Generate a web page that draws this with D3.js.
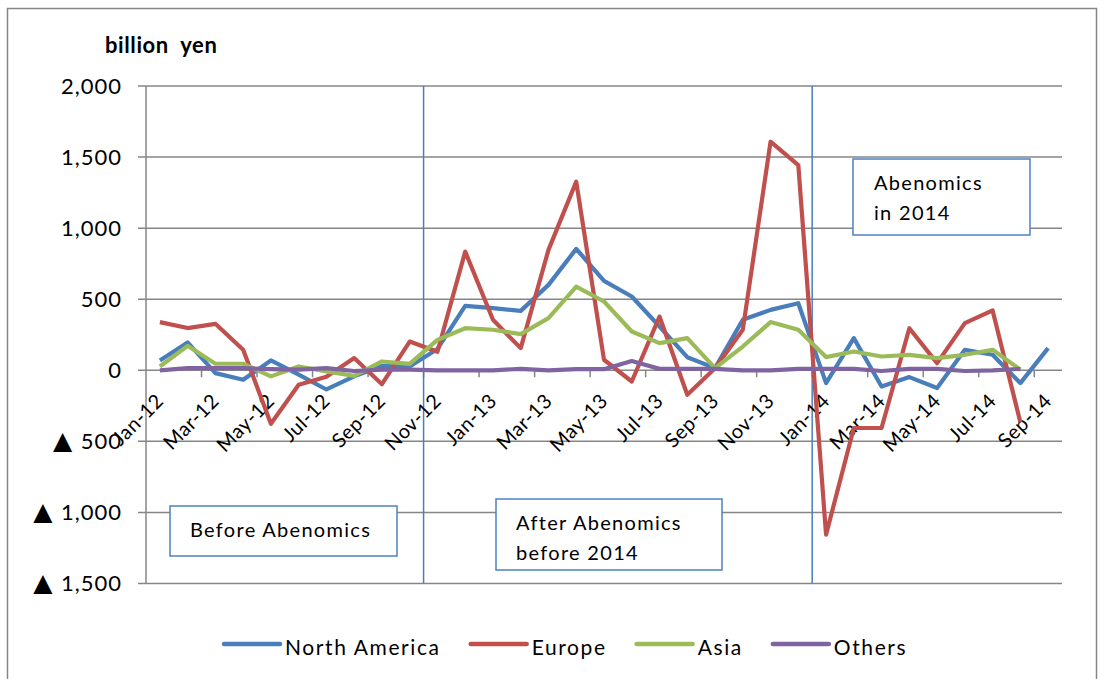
<!DOCTYPE html>
<html>
<head>
<meta charset="utf-8">
<script src="https://cdn.jsdelivr.net/npm/d3@7"></script>
<style>
  html, body { margin: 0; padding: 0; background: #fff; }
  svg { display: block; }
  text { font-family: Lato, "Open Sans", "DejaVu Sans", sans-serif; fill: #000; white-space: pre; }
</style>
</head>
<body>
<svg id="chart" width="1105" height="679"></svg>
<script>
// Monthly categories, Jan-12 .. Sep-14
const months = [
  "Jan-12","Feb-12","Mar-12","Apr-12","May-12","Jun-12","Jul-12","Aug-12","Sep-12","Oct-12","Nov-12","Dec-12",
  "Jan-13","Feb-13","Mar-13","Apr-13","May-13","Jun-13","Jul-13","Aug-13","Sep-13","Oct-13","Nov-13","Dec-13",
  "Jan-14","Feb-14","Mar-14","Apr-14","May-14","Jun-14","Jul-14","Aug-14","Sep-14"
];

// Values in billion yen (null = no data for that month)
const northAmerica = [
  69, 196, -20, -67, 69, -30, -135, -43, 30, 27, 150, 453,
  437, 418, 601, 854, 629, 519, 308, 92, 15, 355, 425, 472,
  -90, 226, -114, -48, -125, 144, 109, -90, 156
];
const europe = [
  339, 297, 327, 144, -376, -102, -45, 86, -98, 202, 130, 835,
  355, 156, 847, 1327, 74, -79, 378, -172, 15, 285, 1608, 1444,
  -1156, -406, -406, 296, 50, 332, 421, -366, null
];
const asia = [
  27, 172, 46, 46, -43, 27, -8, -39, 62, 45, 214, 296,
  285, 254, 367, 589, 484, 273, 191, 226, 15, 167, 339, 285,
  93, 132, 97, 109, 86, 109, 144, 4, null
];
const others = [
  0, 15, 15, 15, 8, 5, 15, -5, 5, 5, 0, 0,
  0, 10, 0, 8, 8, 65, 10, 10, 10, 0, 0, 10,
  10, 10, -5, 10, 10, -5, 0, 10, null
];

const seriesNames = ["North America", "Europe", "Asia", "Others"];
const seriesValues = [northAmerica, europe, asia, others];
const seriesColors = ["#4a7ebb", "#c0504d", "#9bbb59", "#8064a2"];

const yTicks = [2000, 1500, 1000, 500, 0, -500, -1000, -1500];
const xLabelMonths = months.filter((m, i) => i % 2 === 0);

// Period dividers start at these months
const dividerMonths = ["Nov-12", "Jan-14"];

const svg = d3.select("#chart");
const plot = { left: 146, right: 1062, top: 86, bottom: 583.5 };

const x = d3.scaleBand().domain(months).range([plot.left, plot.right]).padding(0);
const y = d3.scaleLinear().domain([-1500, 2000]).range([plot.bottom, plot.top]);
const cx = m => x(m) + x.bandwidth() / 2;

// Outer chart border
svg.append("rect")
  .attr("x", 7.5).attr("y", 8.5).attr("width", 1089).attr("height", 700)
  .attr("fill", "#fff").attr("stroke", "#868686").attr("stroke-width", 1.5);

// Horizontal gridlines
svg.append("g").selectAll("line").data(yTicks).join("line")
  .attr("x1", plot.left - 8).attr("x2", plot.right)
  .attr("y1", d => y(d)).attr("y2", d => y(d))
  .attr("stroke", "#868686").attr("stroke-width", 1.5);

// Vertical value axis line
svg.append("line")
  .attr("x1", plot.left).attr("x2", plot.left)
  .attr("y1", plot.top).attr("y2", plot.bottom)
  .attr("stroke", "#868686").attr("stroke-width", 1.5);

// Value tick labels (negative values marked with a triangle)
const fmt = d3.format(",");
const yLab = svg.append("g").selectAll("text").data(yTicks).join("text")
  .attr("x", 122).attr("y", d => y(d))
  .attr("dy", "0.36em")
  .attr("text-anchor", "end")
  .attr("font-size", 22)
  .attr("letter-spacing", 1);
yLab.filter(d => d < 0).append("tspan")
  .attr("font-size", 25)
  .text("\u25B2 ");
yLab.append("tspan").text(d => fmt(Math.abs(d)));

// Category tick marks on the zero line, every second month boundary
const boundaryIdx = d3.range(2, months.length, 2);
svg.append("g").selectAll("line").data(boundaryIdx).join("line")
  .attr("x1", i => x(months[i])).attr("x2", i => x(months[i]))
  .attr("y1", y(0)).attr("y2", y(0) + 7)
  .attr("stroke", "#868686").attr("stroke-width", 1.5);

// Axis title
svg.append("text")
  .attr("x", 105).attr("y", 53)
  .attr("font-size", 22).attr("font-weight", "bold")
  .attr("letter-spacing", 0.6)
  .text("billion  yen");

// Period divider lines
svg.append("g").selectAll("line").data(dividerMonths).join("line")
  .attr("x1", d => x(d)).attr("x2", d => x(d))
  .attr("y1", plot.top).attr("y2", plot.bottom)
  .attr("stroke", "#4a7ebb").attr("stroke-width", 1.5);

// Period annotation boxes
const notes = [
  { x0: 170, y0: 506, x1: 397, y1: 556, tx: 190, lines: ["Before Abenomics"], by: 537 },
  { x0: 496, y0: 499, x1: 722, y1: 570, tx: 516, lines: ["After Abenomics", "before 2014"], by: 530 },
  { x0: 853, y0: 159, x1: 1030, y1: 235, tx: 874, lines: ["Abenomics", "in 2014"], by: 190 }
];
const noteG = svg.append("g");
notes.forEach(n => {
  noteG.append("rect")
    .attr("x", n.x0).attr("y", n.y0)
    .attr("width", n.x1 - n.x0).attr("height", n.y1 - n.y0)
    .attr("fill", "#fff").attr("stroke", "#4f81bd").attr("stroke-width", 1.5);
  n.lines.forEach((t, k) => {
    noteG.append("text")
      .attr("x", n.tx).attr("y", n.by + k * 29.5)
      .attr("font-size", 20)
      .attr("letter-spacing", 1.3)
      .text(t);
  });
});

// Category labels, rotated
svg.append("g").selectAll("text").data(xLabelMonths).join("text")
  .attr("text-anchor", "end")
  .attr("font-size", 20)
  .attr("letter-spacing", 0.5)
  .attr("transform", m => `translate(${cx(m) + 5},${y(0) + 32}) rotate(-45)`)
  .text(m => m);

// Data lines
const line = d3.line()
  .defined(d => d.v !== null)
  .x(d => cx(d.m))
  .y(d => y(d.v));

svg.append("g").selectAll("path")
  .data(seriesValues.map((vals, s) => ({ s, pts: vals.map((v, i) => ({ m: months[i], v })) })))
  .join("path")
  .attr("d", d => line(d.pts))
  .attr("fill", "none")
  .attr("stroke", d => seriesColors[d.s])
  .attr("stroke-width", 4.2)
  .attr("stroke-linejoin", "round");

// Legend
const legend = svg.append("g");
let lx = 224;
const ly = 644;
seriesNames.forEach((name, s) => {
  legend.append("line")
    .attr("x1", lx).attr("x2", lx + 56)
    .attr("y1", ly).attr("y2", ly)
    .attr("stroke", seriesColors[s]).attr("stroke-width", 4.5)
    .attr("stroke-linecap", "round");
  const t = legend.append("text")
    .attr("x", lx + 61).attr("y", 655)
    .attr("font-size", 21)
    .attr("letter-spacing", 1.6)
    .text(name);
  lx += 61 + t.node().getComputedTextLength() + 30;
});
</script>
</body>
</html>
